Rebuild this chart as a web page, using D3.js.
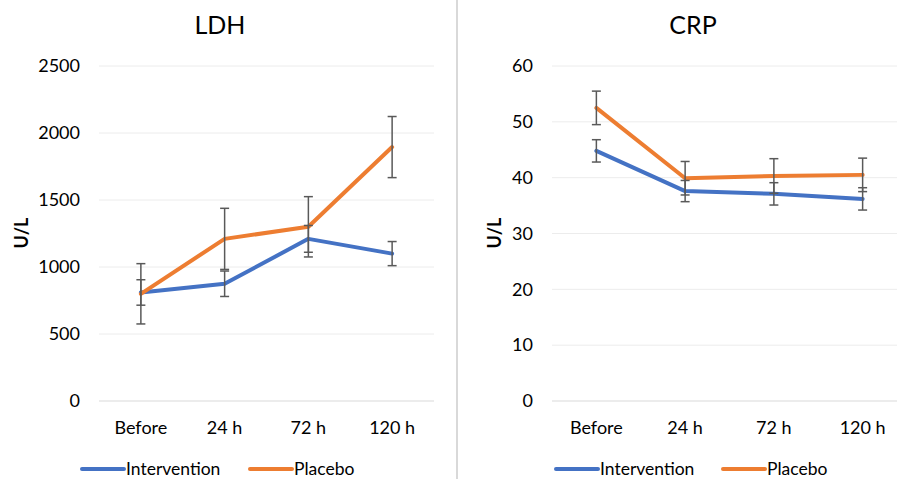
<!DOCTYPE html>
<html>
<head>
<meta charset="utf-8">
<script src="https://cdn.jsdelivr.net/npm/d3@7"></script>
<style>
  body { margin: 0; background: #fff; }
  svg { font-family: Lato, "Open Sans", sans-serif; }
</style>
</head>
<body>
<script>
// data
const categories = ["Before", "24 h", "72 h", "120 h"];
const seriesNames = ["Intervention", "Placebo"];

const ldhIntervention = [810, 875, 1210, 1100];
const ldhInterventionErr = [95, 95, 100, 90];
const ldhPlacebo = [800, 1210, 1300, 1895];
const ldhPlaceboErr = [225, 228, 225, 228];
const ldhTicks = [0, 500, 1000, 1500, 2000, 2500];

const crpIntervention = [44.8, 37.6, 37.1, 36.2];
const crpInterventionErr = [2, 1.9, 2, 2];
const crpPlacebo = [52.5, 39.9, 40.3, 40.5];
const crpPlaceboErr = [3, 3, 3.1, 3];
const crpTicks = [0, 10, 20, 30, 40, 50, 60];

const colors = ["#4472C4", "#ED7D31"];

const width = 897, height = 479;

const svg = d3.select("body")
    .append("svg")
    .attr("width", width)
    .attr("height", height);

// divider between the two charts
svg.append("line")
    .attr("x1", 457).attr("x2", 457)
    .attr("y1", 0).attr("y2", height)
    .attr("stroke", "#d9d9d9")
    .attr("stroke-width", 2);

function drawChart(opts) {
    const g = svg.append("g");

    const x = d3.scalePoint()
        .domain(categories)
        .range([opts.left, opts.right])
        .padding(0.5);

    const y = d3.scaleLinear()
        .domain([0, d3.max(opts.ticks)])
        .range([401, 66]);

    // gridlines
    g.selectAll(".grid")
        .data(opts.ticks)
        .enter()
        .append("line")
        .attr("x1", opts.left)
        .attr("x2", opts.right)
        .attr("y1", d => y(d))
        .attr("y2", d => y(d))
        .attr("stroke", d => d === 0 ? "#d9d9d9" : "#ececec")
        .attr("stroke-width", 1);

    // y tick labels
    g.selectAll(".ytick")
        .data(opts.ticks)
        .enter()
        .append("text")
        .attr("x", opts.left - 19)
        .attr("y", d => y(d))
        .attr("dy", "0.35em")
        .attr("text-anchor", "end")
        .attr("font-size", 18)
        .attr("fill", "#000")
        .text(d => d);

    // x labels
    g.selectAll(".xtick")
        .data(categories)
        .enter()
        .append("text")
        .attr("x", d => x(d))
        .attr("y", 434)
        .attr("text-anchor", "middle")
        .attr("font-size", 18)
        .attr("fill", "#000")
        .text(d => d);

    // title
    g.append("text")
        .attr("x", opts.titleX)
        .attr("y", 34)
        .attr("text-anchor", "middle")
        .attr("font-size", 25)
        .attr("fill", "#000")
        .text(opts.title);

    // y axis title
    g.append("text")
        .attr("transform", "translate(" + (opts.axisTitleX) + ",233) rotate(-90)")
        .attr("text-anchor", "middle")
        .attr("font-size", 18)
        .attr("font-weight", "bold")
        .attr("fill", "#000")
        .text("U/L");

    const line = d3.line()
        .x((d, i) => x(categories[i]))
        .y(d => y(d));

    opts.series.forEach((s, k) => {
        g.append("path")
            .datum(s.values)
            .attr("fill", "none")
            .attr("stroke", colors[k])
            .attr("stroke-width", 4)
            .attr("stroke-linejoin", "round")
            .attr("stroke-linecap", "round")
            .attr("d", line);
    });

    // error bars on top of the lines
    opts.series.forEach((s) => {
        const eb = g.selectAll(null)
            .data(s.values)
            .enter()
            .append("g")
            .attr("stroke", "#595959")
            .attr("stroke-width", 1.5);

        eb.append("line")
            .attr("x1", (d, i) => x(categories[i]))
            .attr("x2", (d, i) => x(categories[i]))
            .attr("y1", (d, i) => y(d + s.err[i]))
            .attr("y2", (d, i) => y(d - s.err[i]));

        [1, -1].forEach(sign => {
            eb.append("line")
                .attr("x1", (d, i) => x(categories[i]) - 4.5)
                .attr("x2", (d, i) => x(categories[i]) + 4.5)
                .attr("y1", (d, i) => y(d + sign * s.err[i]))
                .attr("y2", (d, i) => y(d + sign * s.err[i]));
        });
    });

    // legend
    const legend = g.selectAll(".legend")
        .data(seriesNames)
        .enter()
        .append("g")
        .attr("transform", (d, i) => "translate(" + opts.legendX[i] + ",469)");

    legend.append("line")
        .attr("x1", 0).attr("x2", 42)
        .attr("y1", 0).attr("y2", 0)
        .attr("stroke", (d, i) => colors[i])
        .attr("stroke-width", 4)
        .attr("stroke-linecap", "round");

    legend.append("text")
        .attr("x", 44)
        .attr("y", 0)
        .attr("dy", "0.33em")
        .attr("font-size", 17.5)
        .attr("fill", "#000")
        .text(d => d);
}

drawChart({
    title: "LDH",
    titleX: 220,
    left: 99,
    right: 434,
    axisTitleX: 28,
    ticks: ldhTicks,
    legendX: [82, 250],
    series: [
        { values: ldhIntervention, err: ldhInterventionErr },
        { values: ldhPlacebo, err: ldhPlaceboErr }
    ]
});

drawChart({
    title: "CRP",
    titleX: 693,
    left: 552,
    right: 907,
    axisTitleX: 501,
    ticks: crpTicks,
    legendX: [556, 723],
    series: [
        { values: crpIntervention, err: crpInterventionErr },
        { values: crpPlacebo, err: crpPlaceboErr }
    ]
});
</script>
</body>
</html>
